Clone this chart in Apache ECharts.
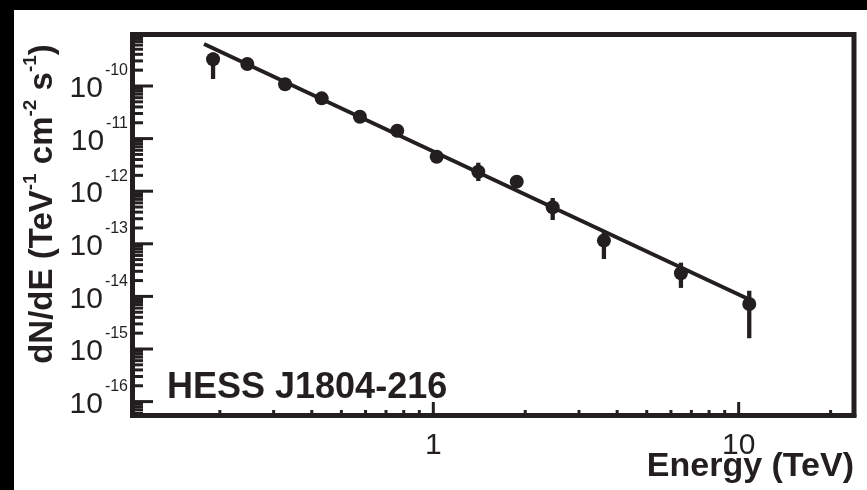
<!DOCTYPE html>
<html>
<head>
<meta charset="utf-8">
<script src="https://cdn.jsdelivr.net/npm/echarts@6/dist/echarts.min.js"></script>
<style>
  html, body { margin: 0; padding: 0; width: 867px; height: 490px; background: #fff; overflow: hidden; }
  .band { position: absolute; background: #000; }
  #bandTop { left: 0; top: 0; width: 867px; height: 10px; }
  #bandLeft { left: 0; top: 0; width: 14px; height: 490px; }
  #chart { position: absolute; left: 14px; top: 10px; width: 853px; height: 480px; background: #fff; }
</style>
</head>
<body>
<div id="bandTop" class="band"></div>
<div id="bandLeft" class="band"></div>
<div id="chart"></div>
<script>
// HESS J1804-216 differential spectrum (TeV^-1 cm^-2 s^-1)
const energy   = [0.190, 0.246, 0.327, 0.431, 0.575, 0.762, 1.026, 1.404, 1.876, 2.46, 3.62, 6.47, 10.83];
const flux     = [3.22e-10, 2.62e-10, 1.08e-10, 5.83e-11, 2.61e-11, 1.41e-11, 4.53e-12, 2.35e-12, 1.52e-12, 4.94e-13, 1.15e-13, 2.75e-14, 7.18e-15];
const fluxLow  = [1.36e-10, 2.45e-10, 1.00e-10, 5.40e-11, 2.40e-11, 1.30e-11, 3.80e-12, 1.56e-12, 1.40e-12, 2.83e-13, 5.14e-14, 1.45e-14, 1.60e-15];
const fluxHigh = [4.30e-10, 2.80e-10, 1.16e-10, 6.30e-11, 2.80e-11, 1.52e-11, 5.30e-12, 3.48e-12, 1.65e-12, 7.43e-13, 1.83e-13, 4.38e-14, 1.28e-14];

// power-law fit, drawn between its two end points
const fitEnergy = [0.1775, 10.62];
const fitFlux   = [6.28e-10, 9.2e-15];

// axis ranges and labelled decades
const X_MIN = 0.1035, X_MAX = 23.86;
const Y_MIN = 5.44e-17, Y_MAX = 9.53e-10;
const xLabelValues = [1, 10];
const yLabelExponents = [-16, -15, -14, -13, -12, -11, -10];

const INK = '#231f20';
const FONT = '"Liberation Sans", Arial, Helvetica, sans-serif';

// tick marks: decades are long, 2..9 multiples short
function logMinorTicks(lo, hi) {
  const out = [];
  for (let d = Math.floor(Math.log10(lo)); d <= Math.ceil(Math.log10(hi)); d++) {
    for (let k = 2; k <= 9; k++) {
      const v = k * Math.pow(10, d);
      if (v > lo && v < hi) out.push(v);
    }
  }
  return out;
}
const xMajorTicks = xLabelValues;
const xMinorTicks = logMinorTicks(X_MIN, X_MAX);
const yMajorTicks = yLabelExponents.map(e => Math.pow(10, e));
const yMinorTicks = logMinorTicks(Y_MIN, Y_MAX);

const xTickData = xMajorTicks.map(v => [v, Y_MIN, 13.5]).concat(xMinorTicks.map(v => [v, Y_MIN, 5.5]));
const yTickData = yMajorTicks.map(v => [X_MIN, v, 20.5]).concat(yMinorTicks.map(v => [X_MIN, v, 10.5]));

function isDecade(v) {
  const l = Math.log10(v);
  return Math.abs(l - Math.round(l)) < 1e-6;
}

const chart = echarts.init(document.getElementById('chart'), null, { renderer: 'canvas' });

chart.setOption({
  animation: false,
  backgroundColor: '#fff',
  textStyle: { fontFamily: FONT, color: INK },
  title: {
    text: 'HESS J1804-216',
    left: 153,
    top: 360,
    padding: 0,
    textStyle: { fontFamily: FONT, fontSize: 36, fontWeight: 'bold', color: INK, lineHeight: 36 }
  },
  grid: {
    left: 118.5, top: 24.5, width: 721.5, height: 381,
    show: true, borderColor: INK, borderWidth: 5, backgroundColor: 'transparent',
    containLabel: false, outerBoundsMode: 'none'
  },
  xAxis: {
    type: 'log', logBase: 10, min: X_MIN, max: X_MAX,
    axisLine: { lineStyle: { color: INK, width: 5 } },
    axisTick: { show: false },
    splitLine: { show: false },
    axisLabel: {
      interval: 0, margin: 15, fontSize: 30, lineHeight: 30, color: INK, fontFamily: FONT,
      formatter: v => (isDecade(v) && xLabelValues.some(t => Math.abs(t - v) / t < 1e-6)) ? String(Math.round(v)) : ''
    },
    name: 'Energy (TeV)',
    nameLocation: 'end',
    nameGap: 0,
    nameMoveOverlap: false,
    nameTextStyle: {
      fontFamily: FONT, fontSize: 34, fontWeight: 'bold', color: INK, lineHeight: 34,
      align: 'right', verticalAlign: 'top', padding: [34, 0, 0, 0]
    }
  },
  yAxis: {
    type: 'log', logBase: 10, min: Y_MIN, max: Y_MAX,
    axisLine: { lineStyle: { color: INK, width: 5 } },
    axisTick: { show: false },
    splitLine: { show: false },
    axisLabel: {
      interval: 0, margin: 4.5, color: INK, fontFamily: FONT,
      formatter: v => {
        if (!isDecade(v)) return '';
        const e = Math.round(Math.log10(v));
        if (yLabelExponents.indexOf(e) < 0) return '';
        return '{b|10}{s|' + e + '}';
      },
      rich: {
        b: { fontSize: 30, lineHeight: 30, padding: [6, 0, 0, 0], fontFamily: FONT, color: INK },
        s: { fontSize: 16, lineHeight: 16, padding: [0, 0, 30, 2], fontFamily: FONT, color: INK }
      }
    },
    name: '{t|dN/dE (TeV}{u|-1}{t| cm}{u|-2}{t| s}{u|-1}{t|)}',
    nameLocation: 'middle',
    nameRotate: 90,
    nameGap: 73,
    nameMoveOverlap: false,
    nameTextStyle: {
      padding: [0, 0, 0, 42],
      rich: {
        t: { fontFamily: FONT, fontSize: 33, fontWeight: 'bold', lineHeight: 33, color: INK },
        u: { fontFamily: FONT, fontSize: 19, fontWeight: 'bold', lineHeight: 19, padding: [0, 0, 24, 0], color: INK }
      }
    }
  },
  series: [
    {
      name: 'x ticks', type: 'custom', coordinateSystem: 'cartesian2d', silent: true, clip: false,
      encode: { x: 0, y: 1 },
      data: xTickData,
      renderItem: (params, api) => {
        const p = api.coord([api.value(0), api.value(1)]);
        return { type: 'line', shape: { x1: p[0], y1: p[1], x2: p[0], y2: p[1] - api.value(2) },
                 style: { stroke: INK, lineWidth: 3 } };
      }
    },
    {
      name: 'y ticks', type: 'custom', coordinateSystem: 'cartesian2d', silent: true, clip: false,
      encode: { x: 0, y: 1 },
      data: yTickData,
      renderItem: (params, api) => {
        const p = api.coord([api.value(0), api.value(1)]);
        return { type: 'line', shape: { x1: p[0], y1: p[1], x2: p[0] + api.value(2), y2: p[1] },
                 style: { stroke: INK, lineWidth: 3 } };
      }
    },
    {
      name: 'fit', type: 'line', showSymbol: false, silent: true,
      data: fitEnergy.map((e, i) => [e, fitFlux[i]]),
      lineStyle: { color: INK, width: 4, opacity: 1 }
    },
    {
      name: 'errors', type: 'custom', coordinateSystem: 'cartesian2d', silent: true,
      encode: { x: 0, y: [1, 2] },
      data: energy.map((e, i) => [e, fluxLow[i], fluxHigh[i]]),
      renderItem: (params, api) => {
        const lo = api.coord([api.value(0), api.value(1)]);
        const hi = api.coord([api.value(0), api.value(2)]);
        return { type: 'line', shape: { x1: lo[0], y1: lo[1], x2: hi[0], y2: hi[1] },
                 style: { stroke: INK, lineWidth: 4.3 } };
      }
    },
    {
      name: 'flux', type: 'scatter', silent: true,
      symbol: 'circle', symbolSize: 14,
      itemStyle: { color: INK, opacity: 1 },
      data: energy.map((e, i) => [e, flux[i]])
    }
  ]
});
</script>
</body>
</html>
